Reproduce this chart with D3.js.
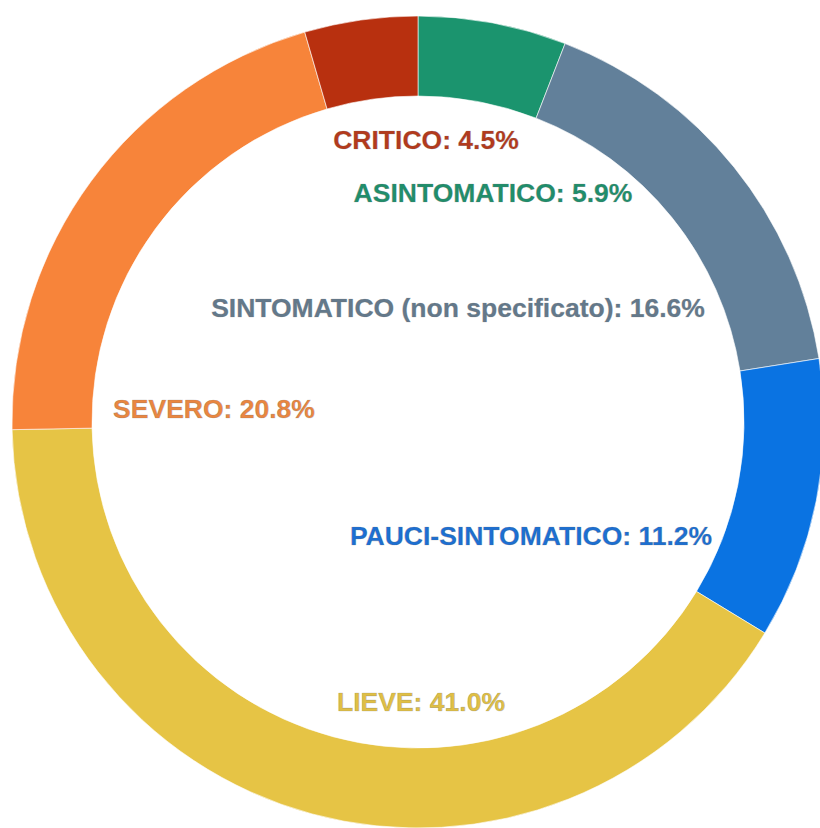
<!DOCTYPE html>
<meta charset="utf-8">
<script src="https://d3js.org/d3.v7.min.js"></script>
<style>
  body { margin: 0; background: #fff; }
  text { font-family: "Liberation Sans", Arial, sans-serif; font-weight: bold; }
</style>
<div id="chart"></div>
<script>
// data, clockwise from 12 o'clock
const categories = ["ASINTOMATICO", "SINTOMATICO (non specificato)", "PAUCI-SINTOMATICO", "LIEVE", "SEVERO", "CRITICO"];
const shares = [5.9, 16.6, 11.2, 41.0, 20.8, 4.5];
const sliceColors = ["#1b946e", "#62809a", "#0a73e2", "#e6c445", "#f7843a", "#b8300f"];
const labelColors = ["#1f8e6b", "#63798b", "#1c6fd2", "#e0bf45", "#ea8640", "#b43a1c"];
// label centre offsets from the ring centre (px)
const labelOffsets = [[75, -230], [40, -115], [113, 113], [3, 279], [-204, -14], [8, -283]];

const W = 820, H = 828;
const cx = 418, cy = 422;
const outerR = 406, innerR = 326;

const svg = d3.select("#chart").append("svg")
    .attr("width", W)
    .attr("height", H);

const g = svg.append("g").attr("transform", `translate(${cx},${cy})`);

const pie = d3.pie().sort(null).value(d => d.v);
const arc = d3.arc().innerRadius(innerR).outerRadius(outerR);

const data = categories.map((c, i) => ({ c, v: shares[i], i }));

g.selectAll("path")
  .data(pie(data))
  .join("path")
    .attr("d", arc)
    .attr("fill", d => sliceColors[d.data.i])
    .attr("stroke", "rgba(255,255,255,0.6)")
    .attr("stroke-width", 1);

g.selectAll("text.lbl")
  .data(data)
  .join("text")
    .attr("class", "lbl")
    .attr("x", d => labelOffsets[d.i][0])
    .attr("y", d => labelOffsets[d.i][1])
    .attr("dy", "0.36em")
    .attr("text-anchor", "middle")
    .attr("font-size", 26.5)
    .attr("fill", d => labelColors[d.i])
    .attr("stroke", "rgba(110,110,110,0.35)")
    .attr("stroke-width", 0.7)
    .text(d => `${d.c}: ${d.v.toFixed(1)}%`);
</script>
